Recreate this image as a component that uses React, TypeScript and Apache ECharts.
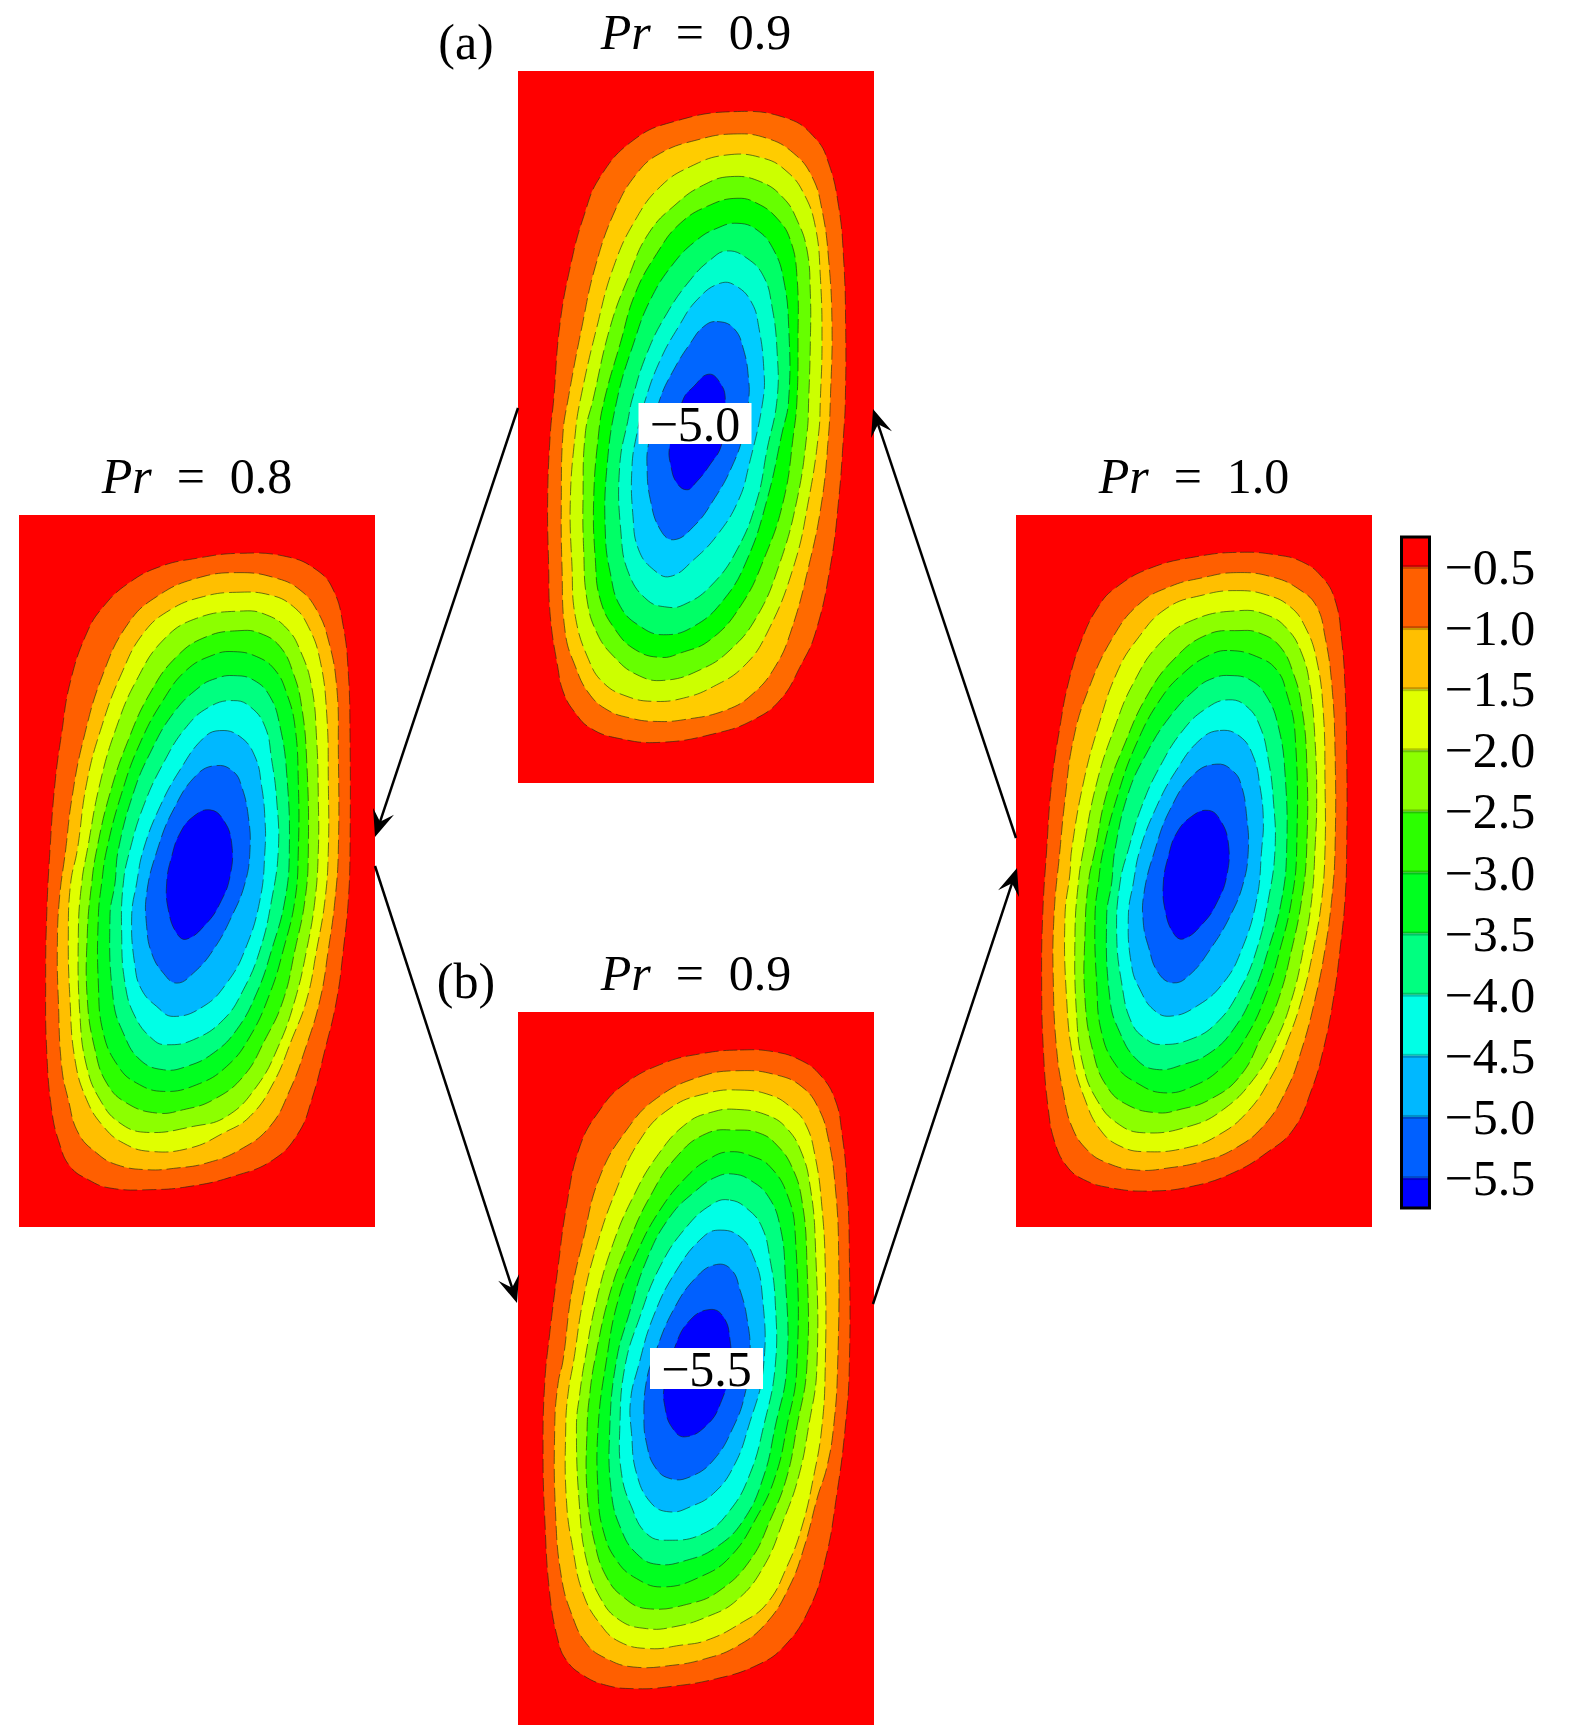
import React, { useEffect, useRef } from "react";
import * as echarts from "echarts";

type Pt = number[];

// Contour outlines. Units: 1/3 pixel of the picture, in each panel's own axis range.
const panelA9Contours: Pt[][] = [
  [[700,155],[860,175],[945,235],[985,310],[1015,440],[1030,600],[1036,800],[1035,1020],[1030,1120],[1015,1320],[990,1520],[945,1720],[900,1820],[840,1920],[760,1980],[650,2020],[480,2048],[350,2035],[270,2005],[225,1960],[190,1900],[172,1820],[150,1670],[145,1520],[142,1320],[150,1120],[160,1020],[178,800],[210,620],[250,470],[300,350],[400,240],[520,185]],
  [[700,222],[800,235],[880,280],[935,350],[965,450],[985,600],[995,800],[990,1020],[985,1120],[965,1320],[925,1520],[870,1720],[825,1820],[760,1900],[680,1950],[550,1980],[460,1985],[390,1975],[320,1950],[265,1900],[225,1820],[195,1720],[185,1520],[183,1320],[188,1120],[203,1020],[245,800],[285,620],[345,450],[410,340],[480,280],[590,240]],
  [[680,285],[790,295],[860,335],[910,400],[945,500],[960,650],[965,850],[960,1020],[955,1120],[925,1320],[880,1520],[800,1720],[730,1820],[640,1880],[550,1915],[460,1925],[380,1910],[310,1870],[265,1800],[225,1670],[215,1520],[210,1320],[225,1120],[240,1020],[290,800],[340,620],[405,480],[480,380],[570,320]],
  [[690,350],[780,365],[850,415],[890,480],[920,570],[930,700],[930,850],[925,1020],[920,1120],[890,1320],[835,1520],[770,1670],[690,1770],[600,1830],[490,1862],[410,1845],[340,1790],[290,1720],[260,1620],[250,1470],[248,1320],[255,1120],[278,1020],[330,800],[385,650],[445,520],[530,430],[610,375]],
  [[710,415],[770,430],[830,475],[870,540],[890,650],[893,850],[890,1020],[880,1120],[850,1320],[790,1500],[720,1640],[630,1740],[540,1780],[480,1793],[405,1770],[345,1710],[300,1620],[285,1500],[280,1320],[295,1120],[312,1020],[360,850],[405,700],[470,580],[540,490],[630,435]],
  [[710,490],[770,510],[820,570],[850,660],[865,800],[865,1020],[845,1120],[800,1320],[740,1500],[670,1620],[580,1700],[490,1725],[420,1700],[360,1640],[330,1540],[315,1420],[320,1220],[350,1020],[400,850],[450,720],[520,610],[590,540],[650,505]],
  [[680,573],[740,595],[790,650],[815,740],[830,870],[830,1020],[800,1170],[770,1320],[710,1470],[630,1580],[550,1635],[500,1642],[440,1620],[385,1540],[362,1420],[358,1220],[385,1070],[395,1020],[440,880],[500,760],[570,660],[630,600]],
  [[660,670],[710,680],[755,730],[775,800],[790,920],[788,1020],[745,1220],[715,1320],[655,1420],[580,1500],[510,1550],[460,1530],[415,1470],[398,1370],[395,1220],[410,1120],[435,1020],[480,900],[535,800],[590,720]],
  [[650,785],[700,805],[730,870],[745,960],[745,1020],[730,1120],[695,1220],[640,1320],[580,1400],[520,1440],[480,1410],[450,1320],[440,1220],[445,1150],[478,1020],[520,930],[570,850],[610,800]],
  [[625,943],[660,970],[675,1020],[665,1150],[625,1220],[585,1270],[560,1290],[530,1270],[512,1220],[508,1160],[548,1020],[580,980]],
];

const panelB9Contours: Pt[][] = [
  [[720,150],[820,155],[900,180],[960,225],[1005,300],[1025,400],[1040,550],[1047,750],[1047,1100],[1035,1280],[1010,1480],[975,1680],[925,1830],[850,1940],[770,1995],[650,2035],[500,2060],[400,2065],[320,2055],[250,2025],[200,1980],[175,1920],[150,1780],[135,1550],[130,1350],[135,1150],[150,1000],[175,800],[200,620],[240,440],[300,330],[370,255],[490,190],[610,160]],
  [[720,212],[830,225],[905,260],[955,325],[985,420],[1005,560],[1015,750],[1012,1100],[1000,1280],[980,1400],[952,1490],[912,1640],[867,1760],[797,1870],[707,1940],[617,1975],[517,1995],[400,2000],[320,1975],[260,1930],[215,1840],[185,1730],[168,1550],[165,1280],[175,1150],[190,1080],[215,880],[250,720],[300,530],[380,390],[470,295],[600,230]],
  [[720,270],[810,285],[870,320],[915,370],[945,470],[965,620],[975,800],[975,1100],[965,1280],[940,1430],[905,1580],[860,1700],[800,1810],[720,1870],[620,1920],[540,1935],[450,1945],[360,1925],[300,1870],[250,1780],[220,1650],[200,1500],[198,1280],[205,1180],[222,1080],[250,900],[290,740],[345,580],[420,420],[510,325],[620,280]],
  [[710,328],[800,345],[860,385],[905,460],[930,560],[945,720],[950,1100],[925,1280],[895,1430],[850,1560],[790,1700],[710,1800],[620,1850],[520,1880],[440,1885],[360,1860],[300,1790],[260,1680],[240,1530],[230,1280],[240,1180],[255,1080],[290,900],[340,730],[400,590],[470,470],[560,370],[640,335]],
  [[710,390],[780,400],[830,435],[875,500],[905,600],[920,780],[920,1100],[890,1280],[860,1430],[810,1560],[750,1680],[660,1770],[570,1810],[440,1825],[370,1790],[320,1730],[285,1630],[262,1480],[262,1280],[270,1180],[285,1080],[330,880],[385,730],[450,590],[530,470],[620,400]],
  [[690,455],[760,470],[810,500],[860,580],[885,700],[890,1100],[860,1280],[825,1430],[770,1550],[690,1670],[600,1730],[490,1760],[410,1735],[350,1680],[310,1590],[295,1480],[295,1280],[320,1080],[355,900],[410,760],[480,630],[560,530],[630,475]],
  [[700,522],[750,540],[805,590],[840,680],[855,820],[860,1100],[825,1280],[790,1430],[730,1560],[650,1640],[560,1680],[470,1692],[410,1660],[365,1590],[335,1480],[330,1280],[350,1080],[385,950],[440,780],[510,650],[590,570],[650,530]],
  [[690,600],[740,625],[785,680],[810,780],[825,900],[825,1100],[790,1280],[750,1420],[690,1530],[610,1600],[500,1620],[440,1600],[395,1520],[365,1420],[360,1280],[375,1100],[420,950],[480,800],[560,680],[640,610]],
  [[660,690],[720,710],[760,770],[785,870],[790,1100],[745,1280],[700,1400],[640,1480],[570,1520],[510,1535],[455,1510],[410,1420],[395,1300],[392,1200],[415,1100],[460,950],[530,810],[610,710]],
  [[650,793],[695,810],[720,870],[740,950],[750,1060],[735,1180],[700,1280],[640,1380],[570,1430],[510,1435],[465,1400],[440,1330],[432,1250],[440,1140],[465,1060],[520,930],[590,830]],
  [[630,928],[670,950],[690,1020],[690,1110],[665,1200],[625,1270],[555,1310],[515,1280],[495,1220],[493,1160],[525,1040],[570,960]],
];

const panelLeft8Contours: Pt[][] = [
  [[720,160],[860,170],[950,210],[1000,270],[1030,380],[1045,520],[1050,700],[1050,1050],[1045,1200],[1030,1350],[1010,1500],[975,1650],[935,1800],[895,1900],[820,1980],[700,2030],[570,2060],[450,2070],[330,2065],[265,2040],[210,2000],[178,1930],[155,1830],[140,1650],[137,1450],[140,1250],[150,1050],[165,850],[185,700],[210,550],[260,400],[310,320],[385,250],[480,200],[590,175]],
  [[720,218],[830,235],[900,270],[950,330],[985,420],[1010,560],[1015,750],[1015,1050],[1005,1200],[985,1350],[960,1500],[915,1650],[870,1770],[810,1880],[720,1950],[620,1990],[530,2005],[440,2010],[350,1995],[290,1960],[235,1900],[205,1800],[185,1700],[175,1500],[172,1350],[178,1200],[197,1050],[215,900],[250,720],[310,520],[385,370],[470,290],[590,235]],
  [[710,277],[810,285],[880,320],[925,380],[960,480],[980,640],[985,850],[985,1050],[975,1200],[950,1350],[920,1500],[875,1620],[820,1750],[750,1850],[670,1900],[570,1945],[450,1955],[370,1930],[310,1880],[260,1800],[225,1680],[210,1500],[205,1300],[212,1150],[232,1050],[260,850],[305,680],[365,520],[430,400],[510,330],[610,290]],
  [[730,333],[800,345],[860,385],[900,450],[935,560],[950,720],[955,900],[955,1050],[945,1200],[920,1350],[885,1500],[835,1640],[770,1760],[680,1850],[580,1880],[440,1898],[360,1870],[300,1800],[260,1700],[240,1550],[235,1300],[245,1150],[262,1050],[300,850],[350,680],[410,540],[490,420],[590,355]],
  [[720,392],[780,400],[840,440],[880,520],[905,620],[920,780],[925,1050],[915,1200],[885,1350],[850,1500],[795,1620],[730,1730],[640,1800],[550,1830],[470,1840],[380,1810],[320,1750],[285,1650],[262,1500],[262,1300],[275,1150],[290,1050],[330,880],[385,720],[450,580],[530,470],[620,410]],
  [[700,455],[770,470],[825,510],[860,580],[885,680],[895,850],[895,1050],[885,1200],[850,1350],[810,1480],[750,1610],[680,1700],[590,1755],[490,1775],[410,1750],[355,1700],[310,1600],[295,1450],[295,1250],[305,1150],[320,1050],[365,880],[420,730],[490,600],[560,510],[640,465]],
  [[700,527],[760,540],[810,590],[840,680],[860,820],[868,1050],[855,1200],[815,1350],[770,1480],[710,1590],[640,1660],[560,1700],[490,1710],[420,1680],[370,1600],[340,1500],[330,1250],[345,1150],[355,1050],[400,880],[450,760],[520,640],[600,560],[650,535]],
  [[700,602],[750,620],[795,680],[815,780],[830,900],[835,1050],[815,1200],[780,1350],[730,1470],[670,1560],[580,1620],[500,1635],[460,1620],[405,1550],[375,1450],[365,1300],[370,1150],[390,1050],[430,920],[490,790],[560,680],[630,620]],
  [[660,692],[720,710],[765,770],[785,860],[795,960],[795,1050],[780,1200],[735,1350],[680,1450],[610,1520],[520,1550],[470,1520],[425,1470],[405,1400],[395,1250],[410,1150],[430,1050],[480,920],[540,810],[610,715]],
  [[650,797],[700,815],[725,860],[745,950],[750,1050],[735,1150],[695,1250],[640,1350],[580,1420],[530,1450],[490,1420],[455,1360],[440,1280],[440,1180],[472,1050],[520,930],[590,825]],
  [[630,930],[670,960],[695,1030],[690,1130],[660,1210],[620,1270],[560,1318],[530,1300],[505,1230],[500,1150],[515,1070],[540,1000],[580,950]],
];

const panelRight10Contours: Pt[][] = [
  [[720,157],[830,165],[905,185],[965,230],[1005,300],[1025,420],[1035,560],[1040,750],[1040,1050],[1035,1200],[1020,1350],[1000,1500],[970,1650],[935,1770],[880,1890],[800,1960],[700,2020],[580,2060],[450,2075],[330,2065],[250,2040],[200,2000],[165,1930],[145,1830],[130,1650],[125,1450],[128,1250],[140,1050],[155,850],[180,680],[205,550],[245,420],[295,320],[345,265],[450,205],[590,170]],
  [[710,218],[820,232],[900,270],[950,320],[975,410],[995,550],[1005,750],[1005,1050],[995,1200],[975,1350],[945,1500],[905,1650],[860,1770],[790,1880],[700,1950],[610,1985],[510,2005],[410,2012],[320,1990],[260,1950],[215,1880],[190,1780],[170,1650],[160,1450],[162,1250],[180,1050],[195,900],[220,720],[265,570],[340,410],[420,310],[510,260],[600,235]],
  [[710,272],[800,285],[870,320],[915,380],[950,480],[970,640],[975,850],[975,1050],[965,1200],[940,1350],[905,1500],[860,1630],[815,1730],[740,1840],[650,1910],[560,1945],[440,1957],[360,1940],[300,1890],[255,1800],[220,1680],[200,1500],[195,1250],[210,1120],[215,1050],[250,850],[295,680],[350,520],[410,420],[500,325],[610,285]],
  [[720,332],[800,345],[860,385],[905,460],[930,560],[945,720],[950,900],[945,1050],[935,1200],[910,1350],[875,1500],[825,1630],[760,1740],[670,1830],[570,1880],[430,1900],[350,1870],[290,1800],[250,1700],[230,1550],[225,1300],[235,1150],[250,1050],[290,850],[345,680],[400,550],[480,430],[580,360]],
  [[720,392],[780,400],[840,440],[880,520],[905,620],[920,780],[920,1050],[905,1200],[875,1350],[835,1500],[785,1610],[720,1730],[630,1800],[540,1830],[470,1840],[380,1815],[320,1760],[280,1660],[255,1500],[255,1300],[265,1150],[285,1050],[320,880],[375,730],[440,590],[520,480],[620,405]],
  [[690,452],[770,470],[830,510],[860,580],[885,700],[890,1050],[875,1200],[840,1350],[800,1480],[740,1610],[670,1700],[580,1760],[490,1780],[410,1750],[350,1700],[305,1600],[290,1450],[285,1250],[295,1150],[310,1050],[355,880],[410,730],[480,600],[550,520],[630,465]],
  [[690,527],[750,540],[800,590],[835,680],[855,820],[860,1050],[845,1200],[805,1350],[760,1480],[700,1590],[630,1660],[550,1695],[470,1710],[410,1680],[360,1600],[330,1500],[320,1250],[335,1150],[345,1050],[385,880],[440,760],[510,650],[590,565],[640,535]],
  [[685,600],[740,620],[780,680],[805,780],[820,900],[825,1050],[805,1200],[770,1350],[720,1470],[650,1570],[570,1620],[480,1635],[440,1620],[395,1570],[365,1450],[350,1300],[360,1150],[385,1050],[425,920],[480,800],[550,690],[620,625]],
  [[660,692],[720,710],[760,770],[780,860],[790,960],[785,1050],[770,1200],[725,1350],[670,1450],[590,1520],[510,1550],[460,1530],[420,1470],[395,1400],[385,1250],[400,1150],[420,1050],[470,920],[530,810],[600,720]],
  [[650,793],[700,815],[725,860],[740,950],[745,1050],[730,1150],[690,1250],[630,1350],[570,1425],[520,1450],[475,1420],[445,1340],[430,1270],[432,1180],[465,1050],[510,930],[580,825]],
  [[625,932],[660,960],[685,1030],[680,1130],[650,1210],[610,1270],[550,1318],[520,1300],[495,1230],[490,1150],[505,1070],[530,1000],[575,950]],
];

const bandColorsA9 = ["#FF6A00", "#FFCC00", "#CCFF00", "#66FF00", "#00FF00", "#00FF66", "#00FFCC", "#00CCFF", "#0066FF", "#0000FF"];
const bandColors = ["#FF5F00", "#FFBF00", "#E0FF00", "#8CFF00", "#2CFF00", "#00FF20", "#00FF80", "#00FFE6", "#00B8FF", "#0060FF", "#0000FF"];

const colorbarTicks = [-0.5, -1.0, -1.5, -2.0, -2.5, -3.0, -3.5, -4.0, -4.5, -5.0, -5.5];
const colorbarEdges = [-0.255, -0.5, -1.0, -1.5, -2.0, -2.5, -3.0, -3.5, -4.0, -4.5, -5.0, -5.5, -5.745];
const colorbarColors = ["#FF0000", ...bandColors];

const SERIF = "'Liberation Serif', 'DejaVu Serif', serif";
const FS = 50;
const titleText = (v: string) => `{i|Pr}{n|  =  ${v}}`;

const panels = [
  { contours: panelA9Contours, colors: bandColorsA9, title: "0.9", left: 518, top: 71, w: 356, h: 712, x: [53, 1121], y: [33, 2170] },
  { contours: panelB9Contours, colors: bandColors, title: "0.9", left: 518, top: 1012, w: 356, h: 713, x: [55, 1121], y: [36, 2174] },
  { contours: panelLeft8Contours, colors: bandColors, title: "0.8", left: 19, top: 515, w: 356, h: 712, x: [57, 1125], y: [45, 2182] },
  { contours: panelRight10Contours, colors: bandColors, title: "1.0", left: 1016, top: 515, w: 356, h: 712, x: [48, 1116], y: [45, 2183] },
];

const titlePos = [
  { x: 696, y: 35 },
  { x: 696, y: 976 },
  { x: 197, y: 479 },
  { x: 1194, y: 479 },
];

function arrow(x1: number, y1: number, x2: number, y2: number): any[] {
  const d = Math.hypot(x2 - x1, y2 - y1);
  const ux = (x2 - x1) / d;
  const uy = (y2 - y1) / d;
  const nx = -uy;
  const ny = ux;
  const p = (back: number, side: number) => [x2 - ux * back + nx * side, y2 - uy * back + ny * side];
  return [
    { type: "line", z: 50, shape: { x1, y1, x2: p(14, 0)[0], y2: p(14, 0)[1] }, style: { stroke: "#000", lineWidth: 2.5 } },
    { type: "polygon", z: 50, shape: { points: [p(0, 0), p(27, 11), p(16, 0), p(27, -11)] }, style: { fill: "#000" } },
  ];
}

function valueLabel(text: string, x: number, y: number, w: number, h: number): any[] {
  return [
    { type: "rect", z: 40, shape: { x, y, width: w, height: h }, style: { fill: "#fff" } },
    {
      type: "text", z: 41, x: x + w / 2, y: y + h / 2,
      style: { text, fill: "#000", font: `${FS}px ${SERIF}`, align: "center", verticalAlign: "middle" },
    },
  ];
}

export default function App() {
  const ref = useRef<HTMLDivElement>(null);
  useEffect(() => {
    const chart = echarts.init(ref.current!, null, { renderer: "svg" });

    const grid: any[] = panels.map((p) => ({
      show: true, left: p.left, top: p.top, width: p.w, height: p.h,
      backgroundColor: "#FF0000", borderWidth: 0, containLabel: false,
    }));
    const xAxis: any[] = panels.map((p, i) => ({ type: "value", gridIndex: i, min: p.x[0], max: p.x[1], show: false }));
    const yAxis: any[] = panels.map((p, i) => ({ type: "value", gridIndex: i, min: p.y[0], max: p.y[1], inverse: true, show: false }));

    const series: any[] = panels.map((p, i) => ({
      type: "custom",
      xAxisIndex: i,
      yAxisIndex: i,
      silent: true,
      clip: true,
      encode: { x: 0, y: 1 },
      data: p.contours.map((c, k) => [c[0][0], c[0][1], k]),
      renderItem: (params: any, api: any) => {
        const c = p.contours[params.dataIndex];
        return {
          type: "polygon",
          shape: { points: c.map((q) => api.coord(q)), smooth: 0.45 },
          style: {
            fill: p.colors[params.dataIndex],
            stroke: "rgba(20,40,20,0.6)",
            lineWidth: 1,
            lineDash: [14, 5],
          },
        };
      },
    }));

    // colour bar
    const cb = panels.length;
    grid.push({ left: 1401.5, top: 537, width: 28, height: 671, containLabel: false });
    xAxis.push({ type: "value", gridIndex: cb, min: 0, max: 1, show: false });
    yAxis.push({
      type: "value", gridIndex: cb, position: "right",
      min: colorbarEdges[colorbarEdges.length - 1], max: colorbarEdges[0],
      axisLine: { show: false }, axisTick: { show: false }, splitLine: { show: false },
      axisLabel: {
        show: true, margin: 15, customValues: colorbarTicks,
        formatter: (v: number) => "\u2212" + Math.abs(v).toFixed(1),
        fontFamily: SERIF, fontSize: FS, color: "#000",
      },
    });
    series.push({
      type: "custom", xAxisIndex: cb, yAxisIndex: cb, silent: true, encode: { x: 0, y: 1 },
      data: colorbarColors.map((_, k) => [0, colorbarEdges[k], k]),
      renderItem: (params: any, api: any) => {
        const k = params.dataIndex;
        const a = api.coord([0, colorbarEdges[k]]);
        const b = api.coord([1, colorbarEdges[k + 1]]);
        const children: any[] = [
          { type: "rect", shape: { x: a[0], y: a[1], width: b[0] - a[0], height: b[1] - a[1] }, style: { fill: colorbarColors[k] } },
        ];
        if (k > 0) {
          children.push({ type: "rect", shape: { x: a[0], y: a[1] - 2, width: b[0] - a[0], height: 4 }, style: { fill: "rgba(0,0,0,0.22)" } });
        }
        return { type: "group", children };
      },
    });
    series.push({
      type: "custom", xAxisIndex: cb, yAxisIndex: cb, silent: true, z: 5, encode: { x: 0, y: 1 },
      data: [[0, colorbarEdges[0]]],
      renderItem: (_: any, api: any) => {
        const a = api.coord([0, colorbarEdges[0]]);
        const b = api.coord([1, colorbarEdges[colorbarEdges.length - 1]]);
        return {
          type: "rect",
          shape: { x: a[0], y: a[1], width: b[0] - a[0], height: b[1] - a[1] },
          style: { fill: "none", stroke: "#000", lineWidth: 3 },
        };
      },
    });

    const titles = panels.map((p, i) => ({
      text: titleText(p.title),
      left: titlePos[i].x,
      top: titlePos[i].y - 28,
      textAlign: "center",
      padding: 0,
      textStyle: {
        fontWeight: "normal",
        rich: {
          i: { fontFamily: SERIF, fontSize: FS, fontStyle: "italic", fontWeight: "normal", color: "#000" },
          n: { fontFamily: SERIF, fontSize: FS, fontWeight: "normal", color: "#000" },
        },
      },
    }));

    const graphic: any[] = [
      ...arrow(518, 408, 375, 837),
      ...arrow(375, 866, 517, 1303),
      ...arrow(873, 1304, 1017, 868),
      ...arrow(1016, 838, 873, 409),
      ...valueLabel("\u22125.0", 638.5, 403, 113, 41),
      ...valueLabel("\u22125.5", 650, 1348, 113, 41),
      { type: "text", z: 30, x: 466, y: 42, style: { text: "(a)", fill: "#000", font: `${FS}px ${SERIF}`, align: "center", verticalAlign: "middle" } },
      { type: "text", z: 30, x: 466, y: 981, style: { text: "(b)", fill: "#000", font: `${FS}px ${SERIF}`, align: "center", verticalAlign: "middle" } },
    ];

    chart.setOption({ animation: false, backgroundColor: "#fff", title: titles, grid, xAxis, yAxis, series, graphic });
    return () => chart.dispose();
  }, []);
  return <div ref={ref} style={{ position: "absolute", left: 0, top: 0, width: 1575, height: 1732 }} />;
}
